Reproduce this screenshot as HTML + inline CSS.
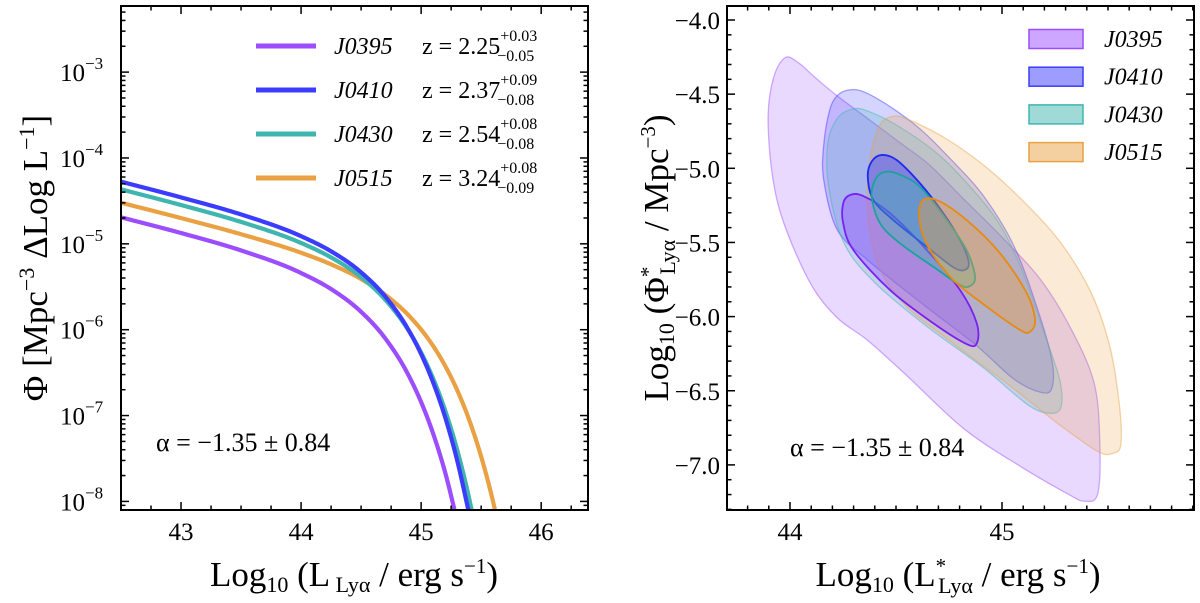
<!DOCTYPE html>
<html><head><meta charset="utf-8"><style>
html,body{margin:0;padding:0;background:#fff;}
svg{display:block;}
text{font-family:"Liberation Serif","DejaVu Serif",serif;}
</style></head><body>
<svg id="fig" width="1200" height="603" viewBox="0 0 1200 603" xmlns="http://www.w3.org/2000/svg">
<defs>
<clipPath id="clipL"><rect x="121" y="6" width="467" height="504"/></clipPath>
<clipPath id="clipR"><rect x="727" y="6" width="467" height="504"/></clipPath>
</defs>
<g id="left"></g>
<g id="right"></g>
</svg>
<script>
// ---------- LEFT PANEL DATA ----------
const lfNames = ["J0395","J0410","J0430","J0515"];
const lfZ = ["2.25","2.37","2.54","3.24"];
const lfZup = ["+0.03","+0.09","+0.08","+0.08"];
const lfZdn = ["\u22120.05","\u22120.08","\u22120.08","\u22120.09"];
const lfX_J0395 = [42.5,43.0,43.5,44.0,44.25,44.5,44.7,44.9,45.0,45.1,45.2,45.3];
const lfY_J0395 = [-4.691,-4.874,-5.077,-5.340,-5.527,-5.792,-6.099,-6.544,-6.843,-7.210,-7.662,-8.224];
const lfX_J0410 = [42.5,43.0,43.5,44.0,44.25,44.5,44.7,44.9,45.0,45.1,45.2,45.3,45.4];
const lfY_J0410 = [-4.276,-4.459,-4.658,-4.911,-5.087,-5.332,-5.612,-6.015,-6.284,-6.614,-7.019,-7.521,-8.143];
const lfX_J0430 = [42.5,43.0,43.5,44.0,44.25,44.5,44.7,44.9,45.0,45.1,45.2,45.3,45.4,45.45];
const lfY_J0430 = [-4.365,-4.548,-4.745,-4.990,-5.158,-5.388,-5.649,-6.020,-6.267,-6.568,-6.939,-7.397,-7.964,-8.297];
const lfX_J0515 = [42.5,43.0,43.5,44.0,44.25,44.5,44.7,44.9,45.0,45.1,45.2,45.3,45.4,45.5,45.6,45.65];
const lfY_J0515 = [-4.521,-4.700,-4.888,-5.104,-5.239,-5.410,-5.592,-5.839,-5.998,-6.189,-6.421,-6.703,-7.050,-7.478,-8.007,-8.318];
const lfXTicks = [43,44,45,46];
const lfYTicks = [-3,-4,-5,-6,-7,-8];
const lfAlpha = "\u03b1 = \u22121.35 \u00b1 0.84";

// ---------- RIGHT PANEL DATA ----------
const ctNames = ["J0395","J0410","J0430","J0515"];
const ct_J0395_outer = [[43.978,-4.253],[44.042,-4.291],[44.114,-4.382],[44.222,-4.511],[44.367,-4.665],[44.512,-4.82],[44.656,-4.975],[44.819,-5.207],[45.0,-5.465],[45.181,-5.749],[45.326,-6.084],[45.434,-6.445],[45.461,-6.832],[45.452,-7.193],[45.389,-7.245],[45.307,-7.193],[45.09,-7.013],[44.819,-6.755],[44.548,-6.394],[44.367,-6.161],[44.222,-6.007],[44.096,-5.775],[43.969,-5.362],[43.915,-5.027],[43.897,-4.64],[43.924,-4.382]];
const ct_J0395_inner = [[44.283,-5.18],[44.346,-5.187],[44.472,-5.303],[44.645,-5.551],[44.802,-5.821],[44.881,-6.045],[44.881,-6.18],[44.833,-6.185],[44.676,-6.045],[44.472,-5.821],[44.299,-5.551],[44.251,-5.371],[44.251,-5.236]];
const ct_J0410_outer = [[44.277,-4.472],[44.349,-4.485],[44.476,-4.588],[44.62,-4.743],[44.765,-4.949],[44.91,-5.181],[45.054,-5.517],[45.163,-5.929],[45.235,-6.29],[45.235,-6.484],[45.181,-6.51],[45.054,-6.419],[44.873,-6.187],[44.638,-5.929],[44.367,-5.62],[44.222,-5.413],[44.159,-5.078],[44.159,-4.846],[44.186,-4.614],[44.222,-4.511]];
const ct_J0410_inner = [[44.433,-4.91],[44.503,-4.944],[44.613,-5.101],[44.723,-5.303],[44.802,-5.483],[44.841,-5.618],[44.833,-5.679],[44.778,-5.674],[44.645,-5.529],[44.487,-5.349],[44.393,-5.214],[44.367,-5.057],[44.385,-4.955]];
const ct_J0430_outer = [[44.295,-4.601],[44.367,-4.614],[44.512,-4.717],[44.693,-4.898],[44.837,-5.104],[44.982,-5.362],[45.09,-5.671],[45.199,-6.11],[45.271,-6.419],[45.28,-6.6],[45.235,-6.652],[45.127,-6.6],[44.91,-6.342],[44.638,-6.058],[44.403,-5.775],[44.259,-5.517],[44.186,-5.156],[44.177,-4.846],[44.222,-4.665]];
const ct_J0430_inner = [[44.44,-5.027],[44.503,-5.034],[44.613,-5.124],[44.739,-5.349],[44.833,-5.551],[44.873,-5.731],[44.849,-5.794],[44.802,-5.787],[44.676,-5.664],[44.519,-5.506],[44.425,-5.371],[44.385,-5.192],[44.401,-5.079]];
const ct_J0515_outer = [[44.476,-4.653],[44.548,-4.665],[44.729,-4.794],[44.91,-4.975],[45.09,-5.207],[45.271,-5.491],[45.416,-5.826],[45.506,-6.187],[45.552,-6.574],[45.561,-6.858],[45.524,-6.922],[45.452,-6.909],[45.271,-6.729],[45.018,-6.445],[44.729,-6.136],[44.548,-5.929],[44.421,-5.671],[44.367,-5.31],[44.376,-4.949],[44.421,-4.717]];
const ct_J0515_inner = [[44.621,-5.225],[44.692,-5.214],[44.833,-5.349],[44.991,-5.573],[45.117,-5.843],[45.156,-6.022],[45.132,-6.102],[45.085,-6.09],[44.928,-5.933],[44.77,-5.753],[44.66,-5.551],[44.613,-5.371]];
const ctXTicks = [44,45];
const ctYTicks = [-4.0,-4.5,-5.0,-5.5,-6.0,-6.5,-7.0];

// ---------- STYLE / HELPERS ----------
const NS="http://www.w3.org/2000/svg";
const colors = ["#9b4dff","#3c3cff","#3fb5b0","#e9a144"];
const edge = ["#7a20f0","#1f2af0","#1aa39d","#e88a10"];
function mk(tag, attrs, parent){const e=document.createElementNS(NS,tag);for(const k in attrs)e.setAttribute(k,attrs[k]);parent.appendChild(e);return e;}
function smooth(pts, closed){
  const n=pts.length;let d=`M${pts[0][0]},${pts[0][1]}`;
  const get=i=>closed?pts[(i+n)%n]:pts[Math.max(0,Math.min(n-1,i))];
  const last=closed?n:n-1;
  for(let i=0;i<last;i++){
    const p0=get(i-1),p1=get(i),p2=get(i+1),p3=get(i+2);
    const c1=[p1[0]+(p2[0]-p0[0])/6,p1[1]+(p2[1]-p0[1])/6];
    const c2=[p2[0]-(p3[0]-p1[0])/6,p2[1]-(p3[1]-p1[1])/6];
    d+=`C${c1[0]},${c1[1]} ${c2[0]},${c2[1]} ${p2[0]},${p2[1]}`;
  }
  return d+(closed?"Z":"");
}
function monotone(xs, ys){
  const n=xs.length,dx=[],m=[],t=new Array(n);
  for(let i=0;i<n-1;i++){dx.push(xs[i+1]-xs[i]);m.push((ys[i+1]-ys[i])/dx[i]);}
  t[0]=m[0];t[n-1]=m[n-2];
  for(let i=1;i<n-1;i++){t[i]=(m[i-1]*m[i]<=0)?0:(dx[i-1]*m[i]+dx[i]*m[i-1])/(dx[i-1]+dx[i]);}
  return x=>{let i=0;while(i<n-2&&x>xs[i+1])i++;const h=dx[i],s=(x-xs[i])/h;
    const h00=2*s*s*s-3*s*s+1,h10=s*s*s-2*s*s+s,h01=-2*s*s*s+3*s*s,h11=s*s*s-s*s;
    return h00*ys[i]+h10*h*t[i]+h01*ys[i+1]+h11*h*t[i+1];};
}

// ---------- LEFT PANEL ----------
const L=document.getElementById('left');
const lx0=121,lx1=588,ly0=6,ly1=510;
const lxmin=42.5,lxmax=46.39,lymin=-8.1,lymax=-2.23;
const lX=v=>lx0+(v-lxmin)/(lxmax-lxmin)*(lx1-lx0);
const lY=v=>ly1-(v-lymin)/(lymax-lymin)*(ly1-ly0);
const lCurves=[[lfX_J0395,lfY_J0395],[lfX_J0410,lfY_J0410],[lfX_J0430,lfY_J0430],[lfX_J0515,lfY_J0515]];
const lg=mk('g',{'clip-path':'url(#clipL)'},L);


[0,3,2,1].forEach(i=>{
  const xs=lCurves[i][0],ys=lCurves[i][1];const f=monotone(xs,ys);
  const a=xs[0],b=xs[xs.length-1];let d='';
  for(let k=0;k<=300;k++){const x=a+(b-a)*k/300;d+=(k?'L':'M')+lX(x).toFixed(2)+','+lY(f(x)).toFixed(2);}
  const p=mk('path',{d:d,fill:'none',stroke:colors[i],'stroke-width':4.2,'stroke-linejoin':'round'},lg);
  
  
});
const lt=mk('g',{stroke:'#000','stroke-width':1.5},L);


for(let k=0;k<=15;k++){const v=42.5+k*0.25;if(v>lxmax)break;
  const x=lX(v);const major=Math.abs(v-Math.round(v))<1e-6;const len=major?8:4.5;
  mk('line',{x1:x,y1:ly1,x2:x,y2:ly1-len},lt);mk('line',{x1:x,y1:ly0,x2:x,y2:ly0+len},lt);
}
for(let d=-9;d<=-2;d++){for(let k=1;k<=9;k++){const v=d+Math.log10(k);if(v<lymin||v>lymax)continue;
  const y=lY(v);const len=k===1?8:4.5;
  mk('line',{x1:lx0,y1:y,x2:lx0+len,y2:y},lt);mk('line',{x1:lx1,y1:y,x2:lx1-len,y2:y},lt);}}
mk('rect',{x:lx0,y:ly0,width:lx1-lx0,height:ly1-ly0,fill:'none',stroke:'#000','stroke-width':2},L);
lfXTicks.forEach(v=>{const t=mk('text',{x:lX(v),y:540,'font-size':25,'text-anchor':'middle'},L);t.textContent=v;
  
  });
lfYTicks.forEach(v=>{const t=mk('text',{x:60,y:lY(v)+9,'font-size':25},L);
  
  
  t.innerHTML=`10<tspan dy="-12" font-size="17">\u2212${-v}</tspan>`;});
lfNames.forEach((n,i)=>{
  const y=46+i*44;
  const g=mk('g',{},L);
  
  
  mk('line',{x1:256,y1:y,x2:316,y2:y,stroke:colors[i],'stroke-width':5},g);
  const t=mk('text',{x:334,y:y+8,'font-size':24,'font-style':'italic'},g);t.textContent=n;
  const z=mk('text',{x:422,y:y+8,'font-size':24},g);
  z.innerHTML=`z = ${lfZ[i]}<tspan dy="-13" font-size="16">${lfZup[i]}</tspan><tspan dx="-40" dy="20" font-size="16">${lfZdn[i]}</tspan>`;
});
const la=mk('text',{x:156,y:451,'font-size':26},L);la.textContent=lfAlpha;


const lxl=mk('text',{x:354,y:586,'font-size':35,'text-anchor':'middle'},L);


lxl.innerHTML=`Log<tspan font-size="22" dy="6">10</tspan><tspan dy="-6"> (L</tspan><tspan font-size="22" dy="6"> Ly\u03b1</tspan><tspan dy="-6"> / erg s</tspan><tspan font-size="21" dy="-13">\u22121</tspan><tspan dy="13">)</tspan>`;
const lyl=mk('text',{x:0,y:0,'font-size':35,'text-anchor':'middle',transform:'translate(47,258) rotate(-90)'},L);


lyl.innerHTML=`\u03a6   [Mpc<tspan font-size="22" dy="-13">\u22123</tspan><tspan dy="13"> \u0394Log L</tspan><tspan font-size="22" dy="-13">\u22121</tspan><tspan dy="13">]</tspan>`;

// ---------- RIGHT PANEL ----------
const R=document.getElementById('right');
const rx0=727,rx1=1194,ry0=6,ry1=510;
const rX=v=>790+(v-44)*212;
const rY=v=>20+(-4-v)*148.3;
const outers=[ct_J0395_outer,ct_J0410_outer,ct_J0430_outer,ct_J0515_outer];
const inners=[ct_J0395_inner,ct_J0410_inner,ct_J0430_inner,ct_J0515_inner];
const rg=mk('g',{'clip-path':'url(#clipR)'},R);


outers.forEach((c,i)=>{
  const p=mk('path',{d:smooth(c.map(q=>[rX(q[0]),rY(q[1])]),true),fill:colors[i],'fill-opacity':0.22,stroke:colors[i],'stroke-opacity':0.45,'stroke-width':1.3},rg);
  
  
});
inners.forEach((c,i)=>{
  const p=mk('path',{d:smooth(c.map(q=>[rX(q[0]),rY(q[1])]),true),fill:colors[i],'fill-opacity':0.4,stroke:edge[i],'stroke-width':1.8},rg);
  
  
});
const rt=mk('g',{stroke:'#000','stroke-width':1.5},R);


for(let k=437;k<=459;k++){const v=k/10;const x=rX(v);if(x<rx0||x>rx1)continue;const len=k%10===0?8:4.5;
  mk('line',{x1:x,y1:ry1,x2:x,y2:ry1-len},rt);mk('line',{x1:x,y1:ry0,x2:x,y2:ry0+len},rt);}
for(let k=-73;k<=-39;k++){const v=k/10;const y=rY(v);if(y<ry0||y>ry1)continue;const len=k%5===0?8:4.5;
  mk('line',{x1:rx0,y1:y,x2:rx0+len,y2:y},rt);mk('line',{x1:rx1,y1:y,x2:rx1-len,y2:y},rt);}
mk('rect',{x:rx0,y:ry0,width:rx1-rx0,height:ry1-ry0,fill:'none',stroke:'#000','stroke-width':2},R);
ctXTicks.forEach(v=>{const t=mk('text',{x:rX(v),y:540,'font-size':25,'text-anchor':'middle'},R);t.textContent=v;
  
  });
ctYTicks.forEach(v=>{const t=mk('text',{x:720,y:rY(v)+9,'font-size':25,'text-anchor':'end'},R);t.textContent='\u2212'+(-v).toFixed(1);
  
  });
ctNames.forEach((n,i)=>{
  const y=39+i*37.7;
  const g=mk('g',{},R);
  
  
  mk('rect',{x:1029,y:y-9.5,width:54,height:19,fill:colors[i],'fill-opacity':0.5,stroke:colors[i],'stroke-width':1.5},g);
  const t=mk('text',{x:1104,y:y+8,'font-size':24,'font-style':'italic'},g);t.textContent=n;
});
const ra=mk('text',{x:790,y:456,'font-size':26},R);ra.textContent=lfAlpha;


const rxl=mk('text',{x:958,y:586,'font-size':35,'text-anchor':'middle'},R);


rxl.innerHTML=`Log<tspan font-size="22" dy="6">10</tspan><tspan dy="-6"> (L</tspan><tspan font-size="21" dy="-13">*</tspan><tspan font-size="22" dx="-8" dy="20">Ly\u03b1</tspan><tspan dy="-7"> / erg s</tspan><tspan font-size="21" dy="-13">\u22121</tspan><tspan dy="13">)</tspan>`;
const ryl=mk('text',{x:0,y:0,'font-size':35,'text-anchor':'middle',transform:'translate(668,258) rotate(-90)'},R);


ryl.innerHTML=`Log<tspan font-size="22" dy="6">10</tspan><tspan dy="-6"> (\u03a6</tspan><tspan font-size="21" dy="-13">*</tspan><tspan font-size="22" dx="-8" dy="20">Ly\u03b1</tspan><tspan dy="-7"> / Mpc</tspan><tspan font-size="21" dy="-13">\u22123</tspan><tspan dy="13">)</tspan>`;
</script>
</body></html>
